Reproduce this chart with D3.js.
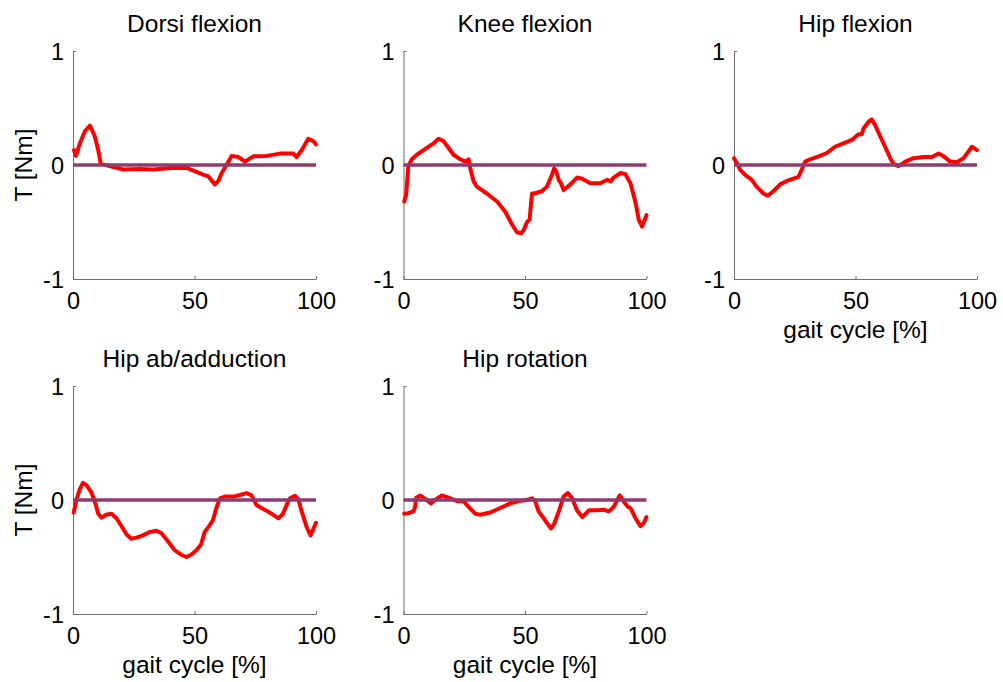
<!DOCTYPE html>
<html>
<head>
<meta charset="utf-8">
<script src="https://cdn.jsdelivr.net/npm/d3@7"></script>
<style>
  body { margin: 0; background: #fff; }
  svg { display: block; }
  text { font-family: Arial, "Liberation Sans", sans-serif; fill: #000; }
</style>
</head>
<body>
<svg id="chart" width="1003" height="682"></svg>
<script>
// ---- Data ----
const titles = ["Dorsi flexion", "Knee flexion", "Hip flexion", "Hip ab/adduction", "Hip rotation"];
const xTicks = [0, 50, 100];
const yTicks = [-1, 0, 1];
const xLabel = "gait cycle [%]";
const yLabel = "T [Nm]";

const dorsiX = [0.4,1.2,3,5,7,9,10.4,11.4,15,20.7,27.6,33,40,46.8,49.5,53.6,55.7,58.4,59.8,61.2,63.2,65.3,68,70.8,74.2,79.7,85.2,90.7,92,94.1,96.8,98.9,100];
const dorsiY = [0.13,0.08,0.2,0.3,0.345,0.25,0.13,0.01,-0.01,-0.04,-0.035,-0.04,-0.026,-0.026,-0.05,-0.085,-0.1,-0.17,-0.14,-0.07,0,0.08,0.07,0.03,0.076,0.08,0.1,0.1,0.07,0.13,0.23,0.21,0.18];

const kneeX = [0.3,1.1,2,3.4,5.5,9.6,12.4,14.4,16.5,20.6,23.4,25.4,26.8,27.5,28.8,30.2,34.3,38.5,41.9,44.6,46.7,48.4,49.5,50.8,51.9,52.5,52.9,53.8,57,59,61.1,62,62.8,63.9,64.8,65.9,68.7,71.4,73.5,76.9,81,83.8,85.2,86.5,89.3,91.3,93.4,95.5,96.8,98.2,100];
const kneeY = [-0.32,-0.26,-0.01,0.05,0.09,0.15,0.19,0.23,0.21,0.09,0.05,0.03,0.05,-0.03,-0.14,-0.19,-0.25,-0.32,-0.41,-0.52,-0.59,-0.6,-0.57,-0.5,-0.48,-0.33,-0.25,-0.25,-0.23,-0.19,-0.085,-0.03,-0.055,-0.13,-0.16,-0.22,-0.17,-0.11,-0.12,-0.16,-0.16,-0.13,-0.145,-0.11,-0.07,-0.08,-0.16,-0.33,-0.48,-0.54,-0.44];

const hipFlexX = [0,1.1,2.5,4.5,7.3,9.3,12.1,13.9,16.2,19,21.7,24.5,26.5,27.9,29.3,31.3,35.4,38.2,41.6,45,48.5,51.2,52.6,53.3,55.4,56.7,58.1,60.2,62.2,64.3,65.7,67.7,70.5,73.9,78,81.5,84.2,86.3,89,91.8,94.5,97.9,100];
const hipFlexY = [0.06,0.02,-0.04,-0.085,-0.13,-0.19,-0.25,-0.27,-0.23,-0.17,-0.14,-0.12,-0.105,-0.04,0.03,0.05,0.08,0.105,0.16,0.19,0.22,0.27,0.27,0.32,0.38,0.4,0.35,0.25,0.16,0.06,0.01,-0.01,0.03,0.06,0.07,0.07,0.1,0.076,0.03,0.026,0.06,0.16,0.13];

const hipAbX = [0.3,1.4,2.7,4.1,5.5,7.5,9,10.4,11.8,13.7,15.9,17.9,20,22,24,26.1,28.8,31.6,34.3,36.3,39,41.8,44.5,46.7,48.6,50.8,52.7,54.2,56.3,57.6,59,60.4,62.5,65.9,68.7,71.4,73.5,75.5,77.6,80.2,82.4,84.5,86.3,87.9,89.3,91.3,92.7,94.1,96.2,97.8,100];
const hipAbY = [-0.11,0,0.09,0.15,0.13,0.07,-0.015,-0.12,-0.155,-0.13,-0.12,-0.16,-0.23,-0.3,-0.34,-0.33,-0.31,-0.28,-0.27,-0.29,-0.36,-0.44,-0.48,-0.5,-0.48,-0.44,-0.39,-0.28,-0.22,-0.175,-0.07,0.015,0.03,0.03,0.044,0.06,0.04,-0.044,-0.07,-0.1,-0.13,-0.16,-0.125,-0.044,0.015,0.038,0.01,-0.1,-0.24,-0.31,-0.2];

const hipRotX = [0.3,2,4.1,4.8,5.2,6.9,8.9,11.3,13,15.8,18.5,22,24.7,26.8,29.5,31.6,35.7,39.8,44,47.4,50.8,52.9,54.2,55.6,57.7,59,60.7,62,63.9,65.9,67.6,69.4,71.4,73.6,76.4,79.7,82.4,84.5,86.5,89,90.7,92.3,93.4,95.5,97.5,98.9,100];
const hipRotY = [-0.12,-0.115,-0.1,-0.06,0.02,0.04,0.01,-0.03,0,0.04,0.02,-0.01,-0.01,-0.06,-0.12,-0.13,-0.11,-0.07,-0.03,-0.01,0,0.015,-0.01,-0.1,-0.16,-0.2,-0.25,-0.21,-0.1,0.03,0.06,0.015,-0.09,-0.15,-0.09,-0.09,-0.085,-0.1,-0.06,0.04,-0.015,-0.06,-0.07,-0.16,-0.23,-0.2,-0.15];

const refX = [0, 100];
const refY = [0, 0];

const seriesX = [dorsiX, kneeX, hipFlexX, hipAbX, hipRotX];
const seriesY = [dorsiY, kneeY, hipFlexY, hipAbY, hipRotY];

// ---- Layout ----
const colLeft = [73, 403.5, 734];
const rowTop = [51, 386];
const pw = 243, ph = 228;
const showXLabel = [false, false, true, true, true];
const showYLabel = [true, false, false, true, false];
const tickFont = 23.5, labelFont = 24.5;

const svg = d3.select("#chart");

titles.forEach((title, i) => {
  const r = Math.floor(i / 3), c = i % 3;
  const x0 = colLeft[c], y0 = rowTop[r];
  const x = d3.scaleLinear().domain([0, 100]).range([0, pw]);
  const y = d3.scaleLinear().domain([-1, 1]).range([ph, 0]);
  const g = svg.append("g").attr("transform", `translate(${x0},${y0})`);

  // axes
  const xAxis = d3.axisBottom(x).tickValues(xTicks).tickSizeInner(-3).tickSizeOuter(0).tickPadding(13);
  const yAxis = d3.axisLeft(y).tickValues(yTicks).tickSizeInner(-3).tickSizeOuter(0).tickPadding(10)
    .tickFormat(d3.format("d"));
  const gx = g.append("g").attr("transform", `translate(0,${ph})`).call(xAxis);
  const gy = g.append("g").call(yAxis);
  [gx, gy].forEach(a => {
    a.select(".domain").attr("stroke", "#6e6e6e").attr("stroke-width", 1);
    a.selectAll(".tick line").attr("stroke", "#6e6e6e");
    a.selectAll(".tick text").attr("font-size", tickFont).attr("font-family", "Arial, 'Liberation Sans', sans-serif").attr("fill", "#000");
  });
  gx.selectAll(".tick text").attr("dy", null).attr("dominant-baseline", "auto").attr("y", 30);
  gy.selectAll(".tick text").attr("dy", "0.36em").attr("x", -9).text(d => d === -1 ? "-1" : d);

  const line = d3.line().x((d, k) => x(seriesX[i][k])).y(d => y(d));
  g.append("path")
    .datum(seriesY[i])
    .attr("d", line)
    .attr("fill", "none")
    .attr("stroke", "#ff0000")
    .attr("stroke-width", 4)
    .attr("stroke-linejoin", "round")
    .attr("stroke-linecap", "round");

  const refLine = d3.line().x((d, k) => x(refX[k])).y(d => y(d));
  g.append("path")
    .datum(refY)
    .attr("d", refLine)
    .attr("fill", "none")
    .attr("stroke", "#8e3b6f")
    .attr("stroke-width", 3.5);

  g.append("text")
    .attr("x", pw / 2).attr("y", -19)
    .attr("text-anchor", "middle")
    .attr("font-size", labelFont)
    .text(title);

  if (showXLabel[i]) {
    g.append("text")
      .attr("x", pw / 2).attr("y", ph + 59)
      .attr("text-anchor", "middle")
      .attr("font-size", labelFont)
      .text(xLabel);
  }
  if (showYLabel[i]) {
    g.append("text")
      .attr("transform", `translate(${32 - x0},${ph / 2}) rotate(-90)`)
      .attr("text-anchor", "middle")
      .attr("font-size", labelFont)
      .text(yLabel);
  }
});
</script>
</body>
</html>
